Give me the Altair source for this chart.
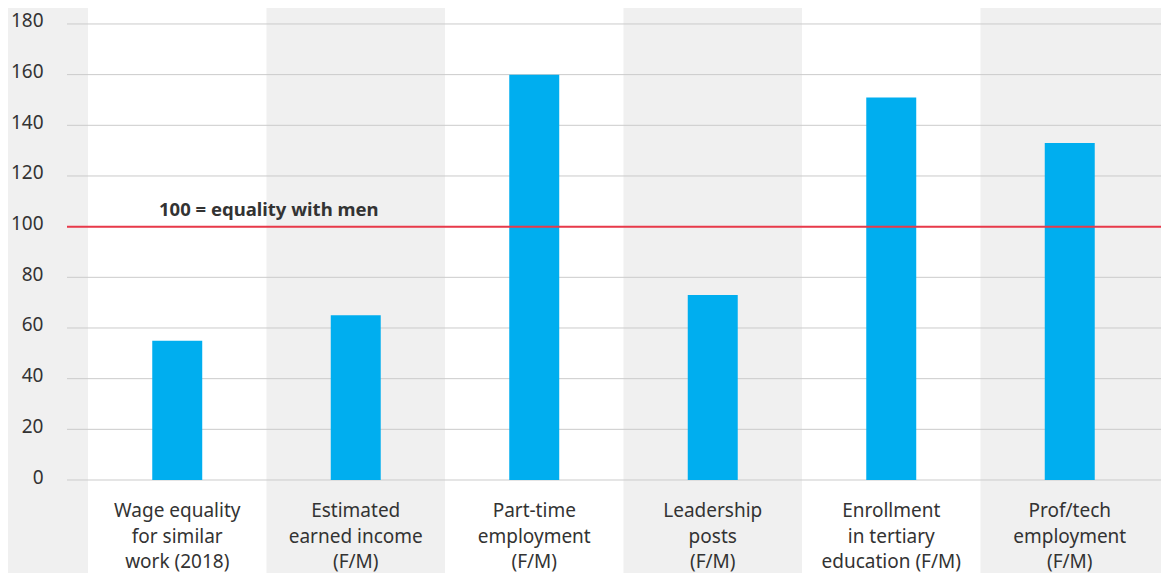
import altair as alt
import pandas as pd

categories = [
    "Wage equality\nfor similar\nwork (2018)",
    "Estimated\nearned income\n(F/M)",
    "Part-time\nemployment\n(F/M)",
    "Leadership\nposts\n(F/M)",
    "Enrollment\nin tertiary\neducation (F/M)",
    "Prof/tech\nemployment\n(F/M)",
]
values = [55, 65, 160, 73, 151, 133]
y_ticks = [0, 20, 40, 60, 80, 100, 120, 140, 160, 180]
equality_value = 100
equality_label = "100 = equality with men"

FONT = "Noto Sans"
TEXT = "#333333"
W, H = 1094, 472

df = pd.DataFrame({"pos": list(range(len(categories))), "label": categories, "value": values})
df["lo"] = df["pos"] - 0.5
df["hi"] = df["pos"] + 0.5
df["blo"] = df["pos"] - 0.14
df["bhi"] = df["pos"] + 0.14
bands = df[df["pos"] % 2 == 0]
grid = pd.DataFrame({"v": y_ticks})

xs = alt.Scale(domain=[-0.6176, 5.5112], nice=False, zero=False)
ys = alt.Scale(domain=[0, 186.3], nice=False, zero=False)
yaxis = alt.Axis(values=y_ticks, grid=False, domain=False, ticks=False,
                 labelPadding=24, labelFontSize=19, labelColor=TEXT,
                 labelFont=FONT, labelOffset=-3, title=None)

band_layer = alt.Chart(bands).mark_rect(color="#ffffff").encode(
    x=alt.X("lo:Q", scale=xs, axis=None),
    x2="hi:Q",
    y=alt.value(0),
    y2=alt.value(H + 93),
)

grid_layer = alt.Chart(grid).mark_rule(color="#cbcbcb", strokeWidth=1).encode(
    y=alt.Y("v:Q", scale=ys, axis=yaxis),
)

bar_layer = alt.Chart(df).mark_rect(color="#00aeef").encode(
    x=alt.X("blo:Q", scale=xs, axis=None),
    x2="bhi:Q",
    y=alt.Y("value:Q", scale=ys, axis=yaxis),
    y2=alt.datum(0),
)

red_layer = alt.Chart(pd.DataFrame({"v": [equality_value]})).mark_rule(
    color="#e8394a", strokeWidth=2
).encode(y=alt.Y("v:Q", scale=ys, axis=yaxis))

note_layer = alt.Chart(pd.DataFrame({"v": [equality_value], "t": [equality_label]})).mark_text(
    align="left", baseline="alphabetic", dy=-11, font=FONT, fontSize=18.5,
    fontWeight="bold", color=TEXT
).encode(x=alt.value(92), y=alt.Y("v:Q", scale=ys, axis=yaxis), text="t:N")

label_layer = alt.Chart(df).mark_text(
    align="center", baseline="middle", lineBreak="\n", lineHeight=25.5,
    font=FONT, fontSize=19, color=TEXT
).encode(
    x=alt.X("pos:Q", scale=xs, axis=None),
    y=alt.value(H + 31),
    text="label:N",
)

chart = alt.layer(band_layer, grid_layer, bar_layer, red_layer, note_layer, label_layer).properties(
    width=W, height=H, background="#f0f0f0",
    padding={"left": 59, "top": 0, "right": 0, "bottom": 93},
    autosize=alt.AutoSizeParams(type="none"),
).configure_view(stroke=None)

chart.save("out.html", embed_options={"renderer": "svg", "actions": False})
